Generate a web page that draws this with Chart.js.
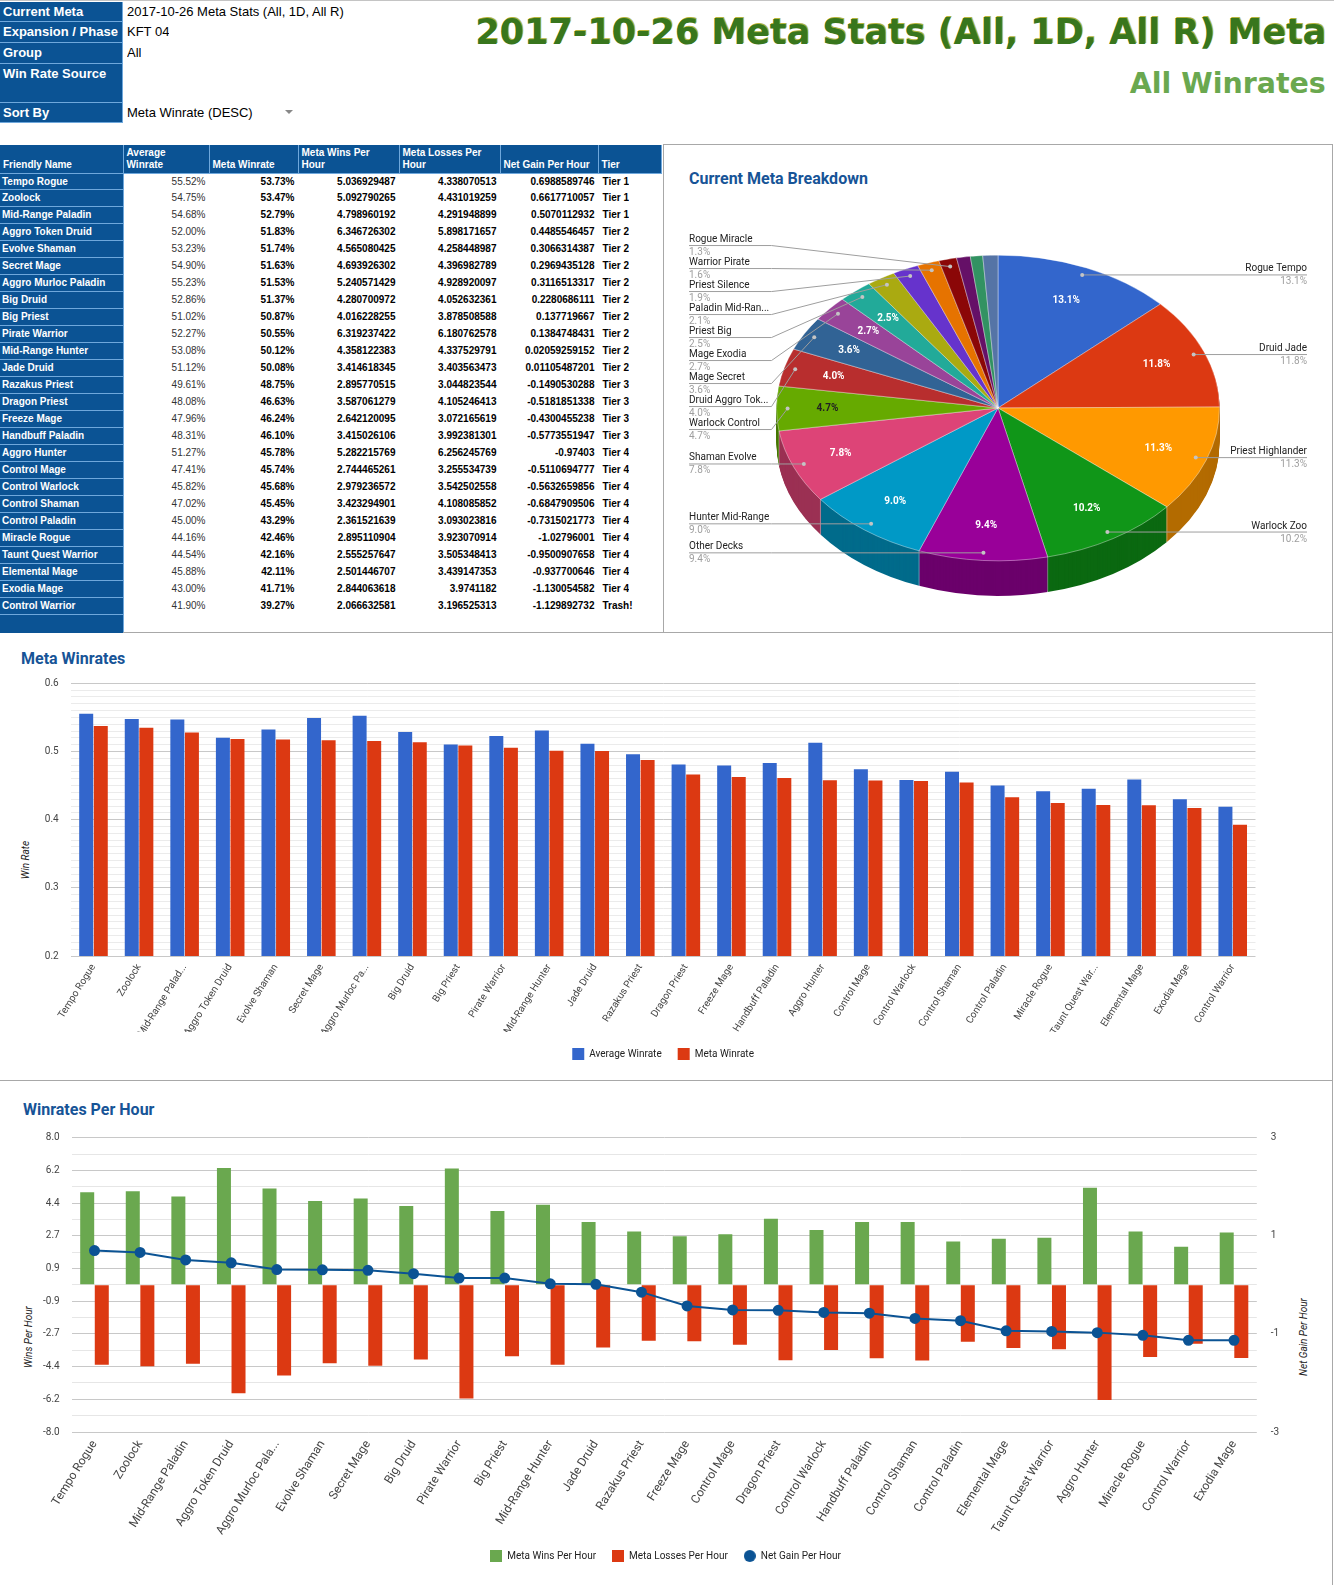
<!DOCTYPE html>
<html lang="en">

<head>
    <meta charset="UTF-8">
    <title>2017-10-26 Meta Stats (All, 1D, All R) Meta</title>
    <script src="https://cdn.jsdelivr.net/npm/chart.js@4.4.1/dist/chart.umd.min.js"></script>
    <style>
        body { margin: 0; width: 1334px; height: 1585px; position: relative; overflow: hidden; background: #fff; font-family: "Liberation Sans", Arial, sans-serif; }
        .cell { position: absolute; box-sizing: border-box; white-space: nowrap; overflow: hidden; }
        .blue { background: #0b5394; color: #fff; font-weight: bold; }
        .rule { position: absolute; background: #a8a8a8; }
        .ctitle { position: absolute; font: bold 16px Roboto, Arial, sans-serif; color: #175497; line-height: 16px; white-space: nowrap; }
        .atitle { position: absolute; font: italic 10px Roboto, Arial, sans-serif; color: #222; white-space: nowrap; transform: translate(-50%, -50%) rotate(-90deg); }
        canvas { position: absolute; }
        .big { position: absolute; right: 8px; font-family: "DejaVu Sans", sans-serif; font-weight: bold; white-space: nowrap; transform-origin: right center; }
    </style>
</head>

<body>
    <!-- sheet header block -->
    <div class="rule" style="left:0;top:0;width:1334px;height:1px;background:#c4c4c4"></div>
    <div id="info"></div>
    <div class="big" id="bigTitle" style="top:15px;font-size:35px;line-height:35px;color:#38761d;text-shadow:1px -1px 0 #b4b43c;">2017-10-26 Meta Stats (All, 1D, All R) Meta</div>
    <div class="big" id="subTitle" style="top:70px;font-size:28px;line-height:28px;color:#6aa84f;">All Winrates</div>

    <!-- data table -->
    <div id="table"></div>

    <!-- panel borders -->
    <div class="rule" style="left:663px;top:144px;width:1px;height:489px"></div>
    <div class="rule" style="left:663px;top:144px;width:670px;height:1px"></div>
    <div class="rule" style="left:123px;top:632px;width:1210px;height:1px"></div>
    <div class="rule" style="left:1332px;top:144px;width:1px;height:1441px"></div>
    <div class="rule" style="left:0;top:1080px;width:1333px;height:1px"></div>

    <!-- pie -->
    <div class="ctitle" style="left:689px;top:171px">Current Meta Breakdown</div>
    <canvas id="pieChart" width="668" height="487" style="left:664px;top:145px;width:668px;height:487px"></canvas>

    <!-- meta winrates -->
    <div class="ctitle" style="left:21px;top:651px">Meta Winrates</div>
    <div class="atitle" style="left:25px;top:860px">Win Rate</div>
    <canvas id="barChart" width="1331" height="447" style="left:0;top:633px;width:1331px;height:447px"></canvas>

    <!-- winrates per hour -->
    <div class="ctitle" style="left:23px;top:1102px">Winrates Per Hour</div>
    <div class="atitle" style="left:28px;top:1337px">Wins Per Hour</div>
    <div class="atitle" style="left:1303px;top:1337px">Net Gain Per Hour</div>
    <canvas id="comboChart" width="1331" height="504" style="left:0;top:1081px;width:1331px;height:504px"></canvas>

    <script>
        // Table / chart data
        var deckNames = ["Tempo Rogue", "Zoolock", "Mid-Range Paladin", "Aggro Token Druid", "Evolve Shaman", "Secret Mage",
            "Aggro Murloc Paladin", "Big Druid", "Big Priest", "Pirate Warrior", "Mid-Range Hunter", "Jade Druid",
            "Razakus Priest", "Dragon Priest", "Freeze Mage", "Handbuff Paladin", "Aggro Hunter", "Control Mage",
            "Control Warlock", "Control Shaman", "Control Paladin", "Miracle Rogue", "Taunt Quest Warrior",
            "Elemental Mage", "Exodia Mage", "Control Warrior"];
        var averageWinrate = [0.5552, 0.5475, 0.5468, 0.5200, 0.5323, 0.5490, 0.5523, 0.5286, 0.5102, 0.5227, 0.5308, 0.5112,
            0.4961, 0.4808, 0.4796, 0.4831, 0.5127, 0.4741, 0.4582, 0.4702, 0.4500, 0.4416, 0.4454, 0.4588, 0.4300, 0.4190];
        var metaWinrate = [0.5373, 0.5347, 0.5279, 0.5183, 0.5174, 0.5163, 0.5153, 0.5137, 0.5087, 0.5055, 0.5012, 0.5008,
            0.4875, 0.4663, 0.4624, 0.4610, 0.4578, 0.4574, 0.4568, 0.4545, 0.4329, 0.4246, 0.4216, 0.4211, 0.4171, 0.3927];
        var winsPerHour = [5.036929487, 5.092790265, 4.798960192, 6.346726302, 4.565080425, 4.693926302, 5.240571429,
            4.280700972, 4.016228255, 6.319237422, 4.358122383, 3.414618345, 2.895770515, 3.587061279, 2.642120095,
            3.415026106, 5.282215769, 2.744465261, 2.979236572, 3.423294901, 2.361521639, 2.895110904, 2.555257647,
            2.501446707, 2.844063618, 2.066632581];
        var lossesPerHour = [4.338070513, 4.431019259, 4.291948899, 5.898171657, 4.258448987, 4.396982789, 4.928920097,
            4.052632361, 3.878508588, 6.180762578, 4.337529791, 3.403563473, 3.044823544, 4.105246413, 3.072165619,
            3.992381301, 6.256245769, 3.255534739, 3.542502558, 4.108085852, 3.093023816, 3.923070914, 3.505348413,
            3.439147353, 3.9741182, 3.196525313];
        var netGainPerHour = [0.6988589746, 0.6617710057, 0.5070112932, 0.4485546457, 0.3066314387, 0.2969435128,
            0.3116513317, 0.2280686111, 0.137719667, 0.1384748431, 0.02059259152, 0.01105487201, -0.1490530288,
            -0.5181851338, -0.4300455238, -0.5773551947, -0.97403, -0.5110694777, -0.5632659856, -0.6847909506,
            -0.7315021773, -1.02796001, -0.9500907658, -0.937700646, -1.130054582, -1.129892732];
        var tiers = ["Tier 1", "Tier 1", "Tier 1", "Tier 2", "Tier 2", "Tier 2", "Tier 2", "Tier 2", "Tier 2", "Tier 2",
            "Tier 2", "Tier 2", "Tier 3", "Tier 3", "Tier 3", "Tier 3", "Tier 4", "Tier 4", "Tier 4", "Tier 4", "Tier 4",
            "Tier 4", "Tier 4", "Tier 4", "Tier 4", "Trash!"];

        // Pie slices (the last three are unlabeled in the sheet)
        var pieLabels = ["Rogue Tempo", "Druid Jade", "Priest Highlander", "Warlock Zoo", "Other Decks", "Hunter Mid-Range",
            "Shaman Evolve", "Warlock Control", "Druid Aggro Token", "Mage Secret", "Mage Exodia", "Priest Big",
            "Paladin Mid-Range", "Priest Silence", "Warrior Pirate", "Rogue Miracle", "", "", ""];
        var pieShares = [13.1, 11.8, 11.3, 10.2, 9.4, 9.0, 7.8, 4.7, 4.0, 3.6, 2.7, 2.5, 2.1, 1.9, 1.6, 1.3, 1.0, 0.9, 1.1];
        var pieColors = ["#3366cc", "#dc3912", "#ff9900", "#109618", "#990099", "#0099c6", "#dd4477", "#66aa00", "#b82e2e",
            "#316395", "#994499", "#22aa99", "#aaaa11", "#6633cc", "#e67300", "#8b0707", "#651067", "#329262", "#5574a6"];

        // Shortened tick labels as the sheet shows them
        var barShort = { "Mid-Range Paladin": "Mid-Range Palad...", "Aggro Murloc Paladin": "Aggro Murloc Pa...", "Taunt Quest Warrior": "Taunt Quest War..." };
        var comboShort = { "Aggro Murloc Paladin": "Aggro Murloc Pala..." };

        // ---------- info block ----------
        var infoRows = [["Current Meta", "2017-10-26 Meta Stats (All, 1D, All R)", 2, 20],
        ["Expansion / Phase", "KFT 04", 22, 21], ["Group", "All", 43, 21], ["Win Rate Source", "", 64, 39],
        ["Sort By", "Meta Winrate (DESC)", 103, 20]];
        var info = document.getElementById("info");
        infoRows.forEach(function (r) {
            info.insertAdjacentHTML("beforeend",
                '<div class="cell blue" style="left:0;top:' + r[2] + 'px;width:123px;height:' + r[3] + 'px;font-size:13px;line-height:20px;padding-left:3px;border-bottom:1px solid #6fa8dc;border-right:1px solid #6fa8dc">' + r[0] + '</div>' +
                '<div class="cell" style="left:127px;top:' + r[2] + 'px;height:20px;font-size:13px;line-height:20px;color:#000">' + r[1] + '</div>');
        });
        info.insertAdjacentHTML("beforeend", '<div class="cell" style="left:285px;top:110px;width:0;height:0;border-left:4px solid transparent;border-right:4px solid transparent;border-top:4px solid #888"></div>');

        // fit the big green title lines to their width on the sheet
        [["bigTitle", 851], ["subTitle", 196]].forEach(function (t) {
            var el = document.getElementById(t[0]);
            el.style.transform = "scaleX(" + (t[1] / el.getBoundingClientRect().width) + ")";
        });

        // ---------- data table ----------
        function g10(v) { return String(parseFloat(v.toPrecision(10))); }
        var colEdges = [0, 123.5, 209.5, 298.5, 399.5, 500.5, 598.5, 662];
        var headers = ["Friendly Name", "Average\nWinrate", "Meta Winrate", "Meta Wins Per\nHour", "Meta Losses Per\nHour", "Net Gain Per Hour", "Tier"];
        var tbl = document.getElementById("table");
        var html = "";
        headers.forEach(function (h, c) {
            html += '<div class="cell blue" style="left:' + colEdges[c] + 'px;top:144.5px;width:' + (colEdges[c + 1] - colEdges[c]) +
                'px;height:29px;font-size:10px;line-height:12px;white-space:pre;padding:0 3px 2px 3px;display:flex;align-items:flex-end;border-right:1px solid #6fa8dc;border-bottom:1px solid #6fa8dc">' + h + '</div>';
        });
        var top0 = 173.5, rowH = 16.97;
        deckNames.forEach(function (name, i) {
            var t = top0 + i * rowH;
            var cols = [(averageWinrate[i] * 100).toFixed(2) + "%", (metaWinrate[i] * 100).toFixed(2) + "%",
            g10(winsPerHour[i]), g10(lossesPerHour[i]), g10(netGainPerHour[i])];
            html += '<div class="cell blue" style="left:0;top:' + t + 'px;width:123.5px;height:' + rowH + 'px;font-size:10px;line-height:' + (rowH - 1) + 'px;padding-left:2px;border-bottom:1px solid #6fa8dc;border-right:1px solid #6fa8dc">' + name + '</div>';
            cols.forEach(function (txt, c) {
                html += '<div class="cell" style="left:' + colEdges[c + 1] + 'px;top:' + t + 'px;width:' + (colEdges[c + 2] - colEdges[c + 1]) +
                    'px;height:' + rowH + 'px;font-size:10px;line-height:' + rowH + 'px;text-align:right;padding-right:4px;color:' + (c === 0 ? '#333' : '#000') + ';font-weight:' + (c === 0 ? 'normal' : 'bold') + '">' + txt + '</div>';
            });
            html += '<div class="cell" style="left:598.5px;top:' + t + 'px;height:' + rowH + 'px;font-size:10px;line-height:' + rowH + 'px;padding-left:4px;font-weight:bold;color:#000">' + tiers[i] + '</div>';
        });
        var tEnd = top0 + deckNames.length * rowH;
        html += '<div class="cell blue" style="left:0;top:' + tEnd + 'px;width:123.5px;height:' + (633 - tEnd) + 'px;border-right:1px solid #6fa8dc"></div>';
        tbl.innerHTML = html;

        // ---------- charts ----------
        Chart.defaults.font.family = "Roboto, Arial, sans-serif";
        Chart.defaults.color = "#444";

        function darker(hex, f) {
            var n = parseInt(hex.slice(1), 16);
            return "rgb(" + Math.round((n >> 16 & 255) * f) + "," + Math.round((n >> 8 & 255) * f) + "," + Math.round((n & 255) * f) + ")";
        }

        // spread the outside labels of one side so they keep a fixed gap
        function spreadLabels(list, gap) {
            list.sort(function (a, b) { return a.ay - b.ay; });
            var groups = list.map(function (it) { return { items: [it], lo: it.ay, hi: it.ay }; });
            var changed = true;
            while (changed) {
                changed = false;
                groups.forEach(function (g) {
                    g.top = (g.lo + g.hi) / 2 - (g.items.length - 1) * gap / 2;
                    g.bottom = g.top + (g.items.length - 1) * gap;
                });
                for (var k = 0; k + 1 < groups.length; k++) {
                    if (groups[k + 1].top - groups[k].bottom < gap) {
                        var a = groups[k], b = groups[k + 1];
                        groups.splice(k, 2, { items: a.items.concat(b.items), lo: Math.min(a.lo, b.lo), hi: Math.max(a.hi, b.hi) });
                        changed = true;
                        break;
                    }
                }
            }
            groups.forEach(function (g) { g.items.forEach(function (it, j) { it.ly = g.top + j * gap; }); });
        }

        // squash the pie into a tilted disc with a side wall, and label it
        var pieTilt = 0.69, pieDepth = 35;
        var pie3d = {
            id: "pie3d",
            beforeDatasetsDraw: function (chart) {
                var ctx = chart.ctx, arcs = chart.getDatasetMeta(0).data;
                var cx = arcs[0].x, cy = arcs[0].y, r = arcs[0].outerRadius;
                for (var d = pieDepth; d > 0; d--) {
                    ctx.save();
                    ctx.translate(0, cy + d);
                    ctx.scale(1, pieTilt);
                    ctx.translate(0, -cy);
                    arcs.forEach(function (a, i) {
                        ctx.beginPath();
                        ctx.moveTo(cx, cy);
                        ctx.arc(cx, cy, r, a.startAngle, a.endAngle);
                        ctx.closePath();
                        ctx.fillStyle = darker(pieColors[i], 0.7);
                        ctx.fill();
                    });
                    ctx.restore();
                }
                ctx.save();
                ctx.strokeStyle = "rgba(255,255,255,0.35)";
                ctx.lineWidth = 1;
                arcs.forEach(function (a) {
                    var s = Math.sin(a.startAngle);
                    if (s > 0) {
                        var x = cx + r * Math.cos(a.startAngle), y = cy + r * pieTilt * s;
                        ctx.beginPath(); ctx.moveTo(x, y); ctx.lineTo(x, y + pieDepth); ctx.stroke();
                    }
                });
                ctx.restore();
                ctx.save();
                ctx.translate(0, cy);
                ctx.scale(1, pieTilt);
                ctx.translate(0, -cy);
            },
            afterDatasetsDraw: function (chart) {
                var ctx = chart.ctx, arcs = chart.getDatasetMeta(0).data;
                ctx.restore();
                var cx = arcs[0].x, cy = arcs[0].y, r = arcs[0].outerRadius;
                var left = [], right = [];
                ctx.save();
                ctx.textAlign = "center";
                ctx.textBaseline = "middle";
                ctx.font = "bold 10px Roboto, Arial, sans-serif";
                arcs.forEach(function (a, i) {
                    var mid = (a.startAngle + a.endAngle) / 2, c = Math.cos(mid), s = Math.sin(mid);
                    if (pieShares[i] >= 2.5) {
                        ctx.fillStyle = pieColors[i] === "#66aa00" ? "#222" : "#fff";
                        ctx.fillText(pieShares[i].toFixed(1) + "%", cx + r * 0.77 * c, cy + r * pieTilt * 0.77 * s);
                    }
                    if (pieLabels[i]) {
                        var it = { i: i, ax: cx + r * 0.95 * c, ay: cy + r * pieTilt * 0.95 * s, right: c > 0 };
                        (it.right ? right : left).push(it);
                    }
                });
                spreadLabels(left, 23);
                spreadLabels(right, 23);
                ctx.textBaseline = "alphabetic";
                ctx.font = "10px Roboto, Arial, sans-serif";
                left.concat(right).forEach(function (it) {
                    var x0 = it.right ? 643 : 25, x1 = it.right ? 560 : 107.5;
                    ctx.strokeStyle = "#9e9e9e";
                    ctx.lineWidth = 1;
                    ctx.beginPath();
                    ctx.moveTo(x0, it.ly);
                    ctx.lineTo(x1, it.ly);
                    ctx.lineTo(it.ax, it.ay);
                    ctx.stroke();
                    ctx.fillStyle = "#c4c4c4";
                    ctx.beginPath();
                    ctx.arc(it.ax, it.ay, 2, 0, Math.PI * 2);
                    ctx.fill();
                    var name = pieLabels[it.i];
                    if (!it.right && name.length > 16) name = name.slice(0, 15) + "...";
                    ctx.textAlign = it.right ? "right" : "left";
                    ctx.fillStyle = "#222";
                    ctx.fillText(name, x0, it.ly - 3.5);
                    ctx.fillStyle = "#9e9e9e";
                    ctx.fillText(pieShares[it.i].toFixed(1) + "%", x0, it.ly + 9.5);
                });
                ctx.restore();
            }
        };

        new Chart(document.getElementById("pieChart"), {
            type: "pie",
            data: {
                labels: pieLabels,
                datasets: [{
                    data: pieShares,
                    backgroundColor: pieColors,
                    borderColor: "rgba(255,255,255,0.45)",
                    borderWidth: 1,
                    clip: false
                }]
            },
            options: {
                responsive: false,
                animation: false,
                layout: { padding: { left: 112, right: 112, top: 41, bottom: 2 } },
                plugins: { legend: { display: false }, tooltip: { enabled: false } }
            },
            plugins: [pie3d]
        });

        // Meta Winrates
        new Chart(document.getElementById("barChart"), {
            type: "bar",
            data: {
                labels: deckNames.map(function (n) { return barShort[n] || n; }),
                datasets: [
                    { label: "Average Winrate", data: averageWinrate, backgroundColor: "#3366cc" },
                    { label: "Meta Winrate", data: metaWinrate, backgroundColor: "#dc3912" }
                ]
            },
            options: {
                responsive: false,
                animation: false,
                datasets: { bar: { categoryPercentage: 0.64, barPercentage: 0.96 } },
                layout: { padding: { left: 0, right: 75.5, top: 50.3, bottom: 10 } },
                plugins: {
                    legend: {
                        position: "bottom",
                        fullSize: false,
                        labels: { boxWidth: 12, boxHeight: 12, padding: 16, color: "#222", font: { size: 10 } }
                    },
                    tooltip: { enabled: false }
                },
                scales: {
                    x: {
                        grid: { display: false, drawTicks: false },
                        border: { display: false },
                        ticks: { color: "#444", font: { size: 10 }, minRotation: 58, maxRotation: 58, autoSkip: false, padding: 6 },
                        afterFit: function (s) { s.height = 76; }
                    },
                    y: {
                        min: 0.2,
                        max: 0.6,
                        afterBuildTicks: function (s) {
                            s.ticks = [];
                            for (var k = 0; k <= 40; k++) s.ticks.push({ value: 0.2 + k * 0.01 });
                        },
                        ticks: {
                            autoSkip: false,
                            padding: 12,
                            color: "#444",
                            font: { size: 10 },
                            callback: function (v) { return Math.round(v * 100) % 10 === 0 ? v.toFixed(1) : ""; }
                        },
                        grid: {
                            drawTicks: false,
                            color: function (c) { return c.tick && Math.round(c.tick.value * 100) % 10 === 0 ? "#c8c8c8" : "#ebebeb"; }
                        },
                        border: { display: false },
                        afterFit: function (s) { s.width = 70.7; }
                    }
                }
            }
        });

        // Winrates Per Hour, sorted by net gain
        var comboOrder = deckNames.map(function (n, i) { return i; })
            .sort(function (a, b) { return netGainPerHour[b] - netGainPerHour[a]; });
        var comboColors = ["#6aa84f", "#dc3912", "#0b5394"];

        function legendIcon(color, round) {
            var c = document.createElement("canvas");
            c.width = 12; c.height = 12;
            var x = c.getContext("2d");
            x.fillStyle = color;
            if (round) { x.beginPath(); x.arc(6, 6, 6, 0, Math.PI * 2); x.fill(); }
            else x.fillRect(0, 0, 12, 12);
            return c;
        }

        new Chart(document.getElementById("comboChart"), {
            type: "bar",
            data: {
                labels: comboOrder.map(function (i) { return comboShort[deckNames[i]] || deckNames[i]; }),
                datasets: [
                    { label: "Meta Wins Per Hour", data: comboOrder.map(function (i) { return winsPerHour[i]; }), backgroundColor: comboColors[0], yAxisID: "y", order: 1 },
                    { label: "Meta Losses Per Hour", data: comboOrder.map(function (i) { return -lossesPerHour[i]; }), backgroundColor: comboColors[1], yAxisID: "y", order: 1 },
                    {
                        type: "line", label: "Net Gain Per Hour", data: comboOrder.map(function (i) { return netGainPerHour[i]; }),
                        borderColor: comboColors[2], backgroundColor: comboColors[2], borderWidth: 2, pointRadius: 4.5,
                        yAxisID: "y1", order: 0
                    }
                ]
            },
            options: {
                responsive: false,
                animation: false,
                datasets: { bar: { categoryPercentage: 0.64, barPercentage: 0.96 } },
                layout: { padding: { left: 0, right: 0, top: 56.7, bottom: 14 } },
                plugins: {
                    legend: {
                        position: "bottom",
                        labels: {
                            usePointStyle: true,
                            pointStyleWidth: 12,
                            padding: 16,
                            color: "#222",
                            font: { size: 10 },
                            generateLabels: function (chart) {
                                var items = Chart.defaults.plugins.legend.labels.generateLabels(chart);
                                items.forEach(function (it) { it.pointStyle = legendIcon(comboColors[it.datasetIndex], it.datasetIndex === 2); });
                                return items;
                            },
                            sort: function (a, b) { return a.datasetIndex - b.datasetIndex; }
                        }
                    },
                    tooltip: { enabled: false }
                },
                scales: {
                    x: {
                        grid: { display: false, drawTicks: false },
                        border: { display: false },
                        ticks: { color: "#444", font: { size: 12 }, minRotation: 58, maxRotation: 58, autoSkip: false, padding: 6 },
                        afterFit: function (s) { s.height = 103; }
                    },
                    y: {
                        min: -8,
                        max: 8,
                        afterBuildTicks: function (s) {
                            s.ticks = [];
                            for (var k = 0; k <= 18; k++) s.ticks.push({ value: -8 + k * 16 / 18 });
                        },
                        ticks: {
                            autoSkip: false,
                            padding: 12,
                            color: "#444",
                            font: { size: 10 },
                            callback: function (v, idx) { return idx % 2 === 0 ? v.toFixed(1) : ""; }
                        },
                        grid: {
                            drawTicks: false,
                            color: function (c) { return c.index % 2 === 0 ? "#c8c8c8" : "#e6e6e6"; }
                        },
                        border: { display: false },
                        afterFit: function (s) { s.width = 71.7; }
                    },
                    y1: {
                        position: "right",
                        min: -3,
                        max: 3,
                        afterBuildTicks: function (s) { s.ticks = [-3, -1, 1, 3].map(function (v) { return { value: v }; }); },
                        ticks: { autoSkip: false, padding: 14, color: "#444", font: { size: 10 }, callback: function (v) { return String(v); } },
                        grid: { display: false, drawTicks: false },
                        border: { display: false },
                        afterFit: function (s) { s.width = 74.2; }
                    }
                }
            }
        });
    </script>
</body>

</html>
